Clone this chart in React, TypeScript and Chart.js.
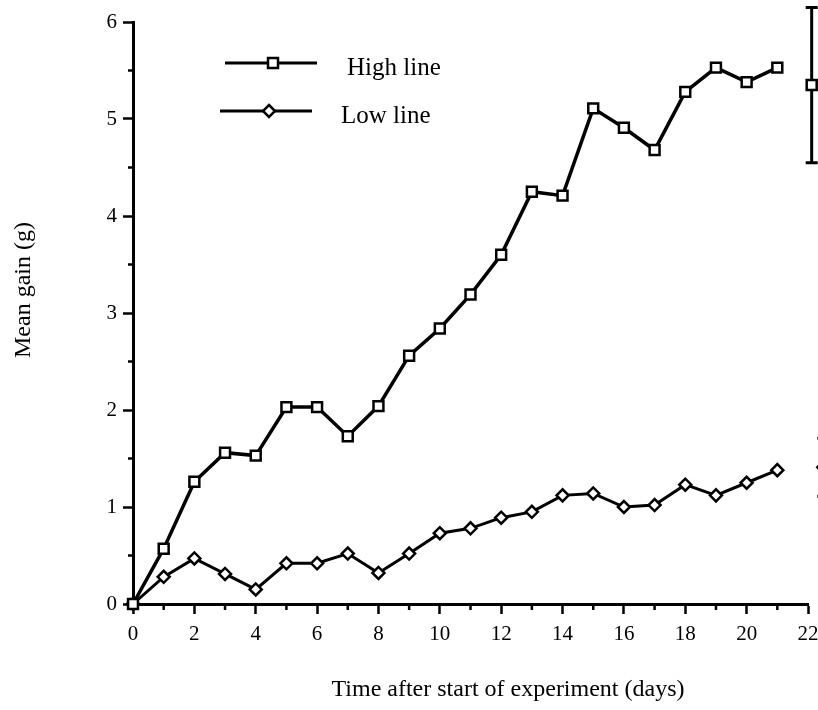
import React, { useEffect, useRef } from 'react';
import { Chart, registerables } from 'chart.js';

Chart.register(...registerables);

// Days after the experiment started
const days = [0, 1, 2, 3, 4, 5, 6, 7, 8, 9, 10, 11, 12, 13, 14, 15, 16, 17, 18, 19, 20, 21];
// Mean gain (g) for each selection line
const highLine = [0, 0.57, 1.26, 1.56, 1.53, 2.03, 2.03, 1.73, 2.04, 2.56, 2.84, 3.19, 3.6, 4.25, 4.21, 5.11, 4.91, 4.68, 5.28, 5.53, 5.38, 5.53];
const lowLine = [0, 0.28, 0.47, 0.31, 0.15, 0.42, 0.42, 0.52, 0.32, 0.52, 0.73, 0.78, 0.89, 0.95, 1.12, 1.14, 1.0, 1.02, 1.23, 1.12, 1.25, 1.38];

// Representative error bars drawn at the right-hand edge
const errorBarDay = [22.12, 22.5];
const errorBarMean = [5.35, 1.41];
const errorBarSpread = [0.8, 0.3];

const seriesNames = ['High line', 'Low line'];
const xAxisTitle = 'Time after start of experiment (days)';
const yAxisTitle = 'Mean gain (g)';

const FONT = "'Liberation Serif', 'Times New Roman', serif";

function drawSquare(ctx: CanvasRenderingContext2D, x: number, y: number, half: number) {
  ctx.beginPath();
  ctx.rect(x - half, y - half, half * 2, half * 2);
  ctx.fillStyle = '#fff';
  ctx.fill();
  ctx.stroke();
}

function drawDiamond(ctx: CanvasRenderingContext2D, x: number, y: number, r: number) {
  ctx.beginPath();
  ctx.moveTo(x, y - r);
  ctx.lineTo(x + r, y);
  ctx.lineTo(x, y + r);
  ctx.lineTo(x - r, y);
  ctx.closePath();
  ctx.fillStyle = '#fff';
  ctx.fill();
  ctx.stroke();
}

const decorPlugin = {
  id: 'decor',
  afterDraw(chart: any) {
    const ctx: CanvasRenderingContext2D = chart.ctx;
    const xs = chart.scales.x;
    const ys = chart.scales.y;
    const area = chart.chartArea;
    ctx.save();
    ctx.strokeStyle = '#000';
    ctx.fillStyle = '#000';
    ctx.lineCap = 'butt';

    // minor ticks
    ctx.lineWidth = 2.5;
    for (let v = 0.5; v < 6; v += 1) {
      const y = ys.getPixelForValue(v);
      ctx.beginPath();
      ctx.moveTo(area.left - 5, y);
      ctx.lineTo(area.left, y);
      ctx.stroke();
    }
    for (let d = 1; d < 22; d += 2) {
      const x = xs.getPixelForValue(d);
      ctx.beginPath();
      ctx.moveTo(x, area.bottom);
      ctx.lineTo(x, area.bottom + 6);
      ctx.stroke();
    }

    // error bars
    for (let i = 0; i < errorBarDay.length; i++) {
      const x = xs.getPixelForValue(errorBarDay[i]);
      const yTop = ys.getPixelForValue(errorBarMean[i] + errorBarSpread[i]);
      const yBot = ys.getPixelForValue(errorBarMean[i] - errorBarSpread[i]);
      const yMid = ys.getPixelForValue(errorBarMean[i]);
      ctx.lineWidth = 3;
      ctx.beginPath();
      ctx.moveTo(x, yTop);
      ctx.lineTo(x, yBot);
      ctx.moveTo(x - 6, yTop);
      ctx.lineTo(x + 6, yTop);
      ctx.moveTo(x - 6, yBot);
      ctx.lineTo(x + 6, yBot);
      ctx.stroke();
      ctx.lineWidth = 2.5;
      if (i === 0) drawSquare(ctx, x, yMid, 5);
      else drawDiamond(ctx, x, yMid, 6);
    }

    // legend
    ctx.lineWidth = 3;
    ctx.beginPath();
    ctx.moveTo(225, 63);
    ctx.lineTo(317, 63);
    ctx.moveTo(220, 111);
    ctx.lineTo(312, 111);
    ctx.stroke();
    ctx.lineWidth = 2.5;
    drawSquare(ctx, 273, 63, 5);
    drawDiamond(ctx, 269, 111, 6);
    ctx.fillStyle = '#000';
    ctx.font = `25px ${FONT}`;
    ctx.textAlign = 'left';
    ctx.textBaseline = 'alphabetic';
    ctx.fillText(seriesNames[0], 347, 75);
    ctx.fillText(seriesNames[1], 341, 123);

    // axis titles
    ctx.font = `24px ${FONT}`;
    ctx.textAlign = 'center';
    ctx.textBaseline = 'middle';
    ctx.fillText(xAxisTitle, 508, 690);
    ctx.save();
    ctx.translate(24, 290);
    ctx.rotate(-Math.PI / 2);
    ctx.fillText(yAxisTitle, 0, 0);
    ctx.restore();

    ctx.restore();
  },
};

export default function App() {
  const canvasRef = useRef<HTMLCanvasElement | null>(null);

  useEffect(() => {
    document.body.style.margin = '0';
    const canvas = canvasRef.current;
    if (!canvas) return;
    const chart = new Chart(canvas, {
      type: 'line',
      data: {
        datasets: [
          {
            label: seriesNames[0],
            data: days.map((d, i) => ({ x: d, y: highLine[i] })),
            borderColor: '#000',
            borderWidth: 3.5,
            pointStyle: 'rect',
            pointRadius: 7,
            pointBorderWidth: 2.5,
            pointBackgroundColor: '#fff',
            pointBorderColor: '#000',
            tension: 0,
            clip: false,
          },
          {
            label: seriesNames[1],
            data: days.map((d, i) => ({ x: d, y: lowLine[i] })),
            borderColor: '#000',
            borderWidth: 3,
            pointStyle: 'rectRot',
            pointRadius: 6,
            pointBorderWidth: 2.5,
            pointBackgroundColor: '#fff',
            pointBorderColor: '#000',
            tension: 0,
            clip: false,
          },
        ],
      },
      options: {
        animation: false,
        responsive: true,
        maintainAspectRatio: false,
        layout: { padding: { top: 22, right: 10, left: 0, bottom: 0 } },
        plugins: { legend: { display: false }, tooltip: { enabled: false } },
        scales: {
          x: {
            type: 'linear',
            min: 0,
            max: 22,
            afterFit: (s: any) => {
              s.height = 106;
              s.paddingLeft = 0;
              s.paddingRight = 0;
            },
            ticks: {
              stepSize: 2,
              color: '#000',
              font: { family: FONT, size: 21 },
              padding: 8,
              maxRotation: 0,
            },
            border: { display: true, color: '#000', width: 3 },
            grid: { drawOnChartArea: false, drawTicks: true, tickLength: 10, tickWidth: 2.5, color: '#000' },
          },
          y: {
            type: 'linear',
            min: 0,
            max: 6,
            afterFit: (s: any) => { s.width = 133; },
            ticks: {
              stepSize: 1,
              color: '#000',
              font: { family: FONT, size: 21 },
              padding: 6,
            },
            border: { display: true, color: '#000', width: 3 },
            grid: { drawOnChartArea: false, drawTicks: true, tickLength: 10, tickWidth: 2.5, color: '#000' },
          },
        },
      },
      plugins: [decorPlugin],
    });
    return () => chart.destroy();
  }, []);

  return (
    <div style={{ position: 'relative', width: 818, height: 710 }}>
      <canvas ref={canvasRef} />
    </div>
  );
}
